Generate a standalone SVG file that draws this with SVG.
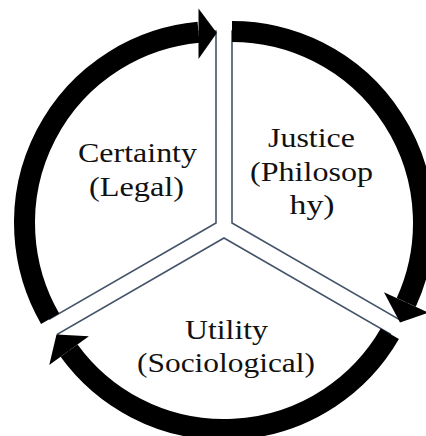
<svg xmlns="http://www.w3.org/2000/svg" width="426" height="436" viewBox="0 0 426 436">
  <style>
    .wedge { fill: #ffffff; stroke: #44546A; stroke-width: 1.6; stroke-linejoin: miter; }
    .ring { fill: none; stroke: #000000; stroke-width: 21; stroke-linecap: butt; }
    .head { fill: #000000; stroke: none; }
    .lbl { font-family: "Liberation Serif", "Times New Roman", serif; font-size: 28px; fill: #111111; text-anchor: middle; }
  </style>
  <rect width="426" height="436" fill="#ffffff"/>
  <g id="certainty">
    <path class="wedge" d="M216,223 L49.72,319 A192,192 0 0 1 216,31 Z"/>
    <text class="lbl" x="137.5" y="162" textLength="119" lengthAdjust="spacingAndGlyphs">Certainty</text>
    <text class="lbl" x="136.5" y="196" textLength="95" lengthAdjust="spacingAndGlyphs">(Legal)</text>
  </g>
  <g id="justice">
    <path class="wedge" d="M232,223 L232,31 A192,192 0 0 1 398.28,319 Z"/>
    <text class="lbl" x="311.5" y="147" textLength="87" lengthAdjust="spacingAndGlyphs">Justice</text>
    <text class="lbl" x="311.5" y="181" textLength="123" lengthAdjust="spacingAndGlyphs">(Philosop</text>
    <text class="lbl" x="312" y="214" textLength="45" lengthAdjust="spacingAndGlyphs">hy)</text>
  </g>
  <g id="utility">
    <path class="wedge" d="M224,238 L390.28,334 A192,192 0 0 1 57.72,334 Z"/>
    <text class="lbl" x="226.5" y="339" textLength="83" lengthAdjust="spacingAndGlyphs">Utility</text>
    <text class="lbl" x="226" y="372" textLength="178" lengthAdjust="spacingAndGlyphs">(Sociological)</text>
  </g>
  <g id="connectors">
    <path class="ring" d="M50.16,318.75 A191.5,191.5 0 0 1 198.5,32.3"/>
    <polygon class="head" points="198.5,8.5 216.8,33 198.5,59"/>
    <path class="ring" d="M232,31.5 A191.5,191.5 0 0 1 406.26,302.41"/>
    <polygon class="head" points="383.96,292.25 400,322.5 428.55,312.57"/>
    <path class="ring" d="M389.84,333.75 A191.5,191.5 0 0 1 69.07,350.56"/>
    <polygon class="head" points="88.89,336.16 56.5,334.5 49.25,364.96"/>
  </g>
</svg>
